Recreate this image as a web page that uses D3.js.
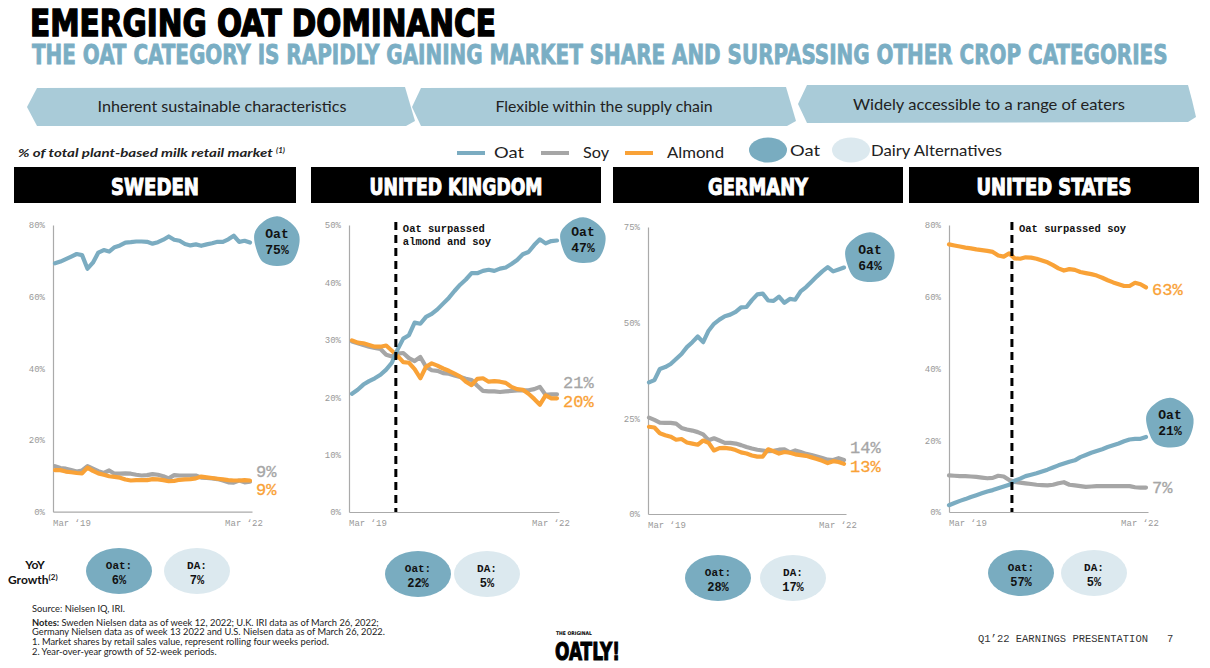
<!DOCTYPE html>
<html><head><meta charset="utf-8">
<script src="https://cdn.jsdelivr.net/npm/d3@7"></script>
<style>body{margin:0;background:#fff;} svg{display:block}</style>
</head><body><svg id="c" width="1210" height="668"></svg>
<script>
// ---------------- DATA ----------------
const months = ["Mar ‘19","Apr ‘19","May ‘19","Jun ‘19","Jul ‘19","Aug ‘19","Sep ‘19","Oct ‘19","Nov ‘19","Dec ‘19",
 "Jan ‘20","Feb ‘20","Mar ‘20","Apr ‘20","May ‘20","Jun ‘20","Jul ‘20","Aug ‘20","Sep ‘20","Oct ‘20","Nov ‘20","Dec ‘20",
 "Jan ‘21","Feb ‘21","Mar ‘21","Apr ‘21","May ‘21","Jun ‘21","Jul ‘21","Aug ‘21","Sep ‘21","Oct ‘21","Nov ‘21","Dec ‘21",
 "Jan ‘22","Feb ‘22","Mar ‘22"];
const countries = ["SWEDEN","UNITED KINGDOM","GERMANY","UNITED STATES"];
const seOat    = [69.3,69.8,70.5,71.2,71.9,71.6,67.8,69.5,72.3,73.0,72.6,73.8,74.3,75.1,75.2,75.4,75.4,75.3,74.8,75.2,75.9,76.8,75.9,75.6,74.7,74.3,74.6,74.2,74.6,74.9,75.3,75.3,76.0,77.0,75.3,75.6,75.1];
const seSoy    = [12.7,12.2,12.0,11.6,11.2,11.5,12.7,12.0,11.3,10.8,11.5,10.6,10.6,10.7,10.6,10.3,10.1,10.2,10.5,10.3,9.9,9.3,10.2,10.1,10.1,10.1,10.1,9.5,9.4,9.3,9.1,8.7,8.2,8.1,8.7,8.2,8.4];
const seAlmond = [11.6,11.6,11.2,11.0,10.8,10.7,12.3,11.4,10.7,10.3,9.9,9.7,9.5,9.0,8.7,8.8,8.8,8.8,9.1,9.0,8.8,8.5,8.6,8.9,9.0,9.1,9.3,9.8,9.6,9.4,9.2,9.0,8.8,8.7,8.7,8.8,8.7];
const ukOat    = [20.6,21.3,22.2,22.8,23.3,23.9,24.8,26.0,28.3,30.2,30.8,33.0,32.8,34.0,34.5,35.3,36.3,37.3,38.5,39.6,40.5,41.6,41.6,42.0,42.2,42.0,42.4,42.6,43.2,43.9,44.9,45.3,46.5,47.5,46.8,47.2,47.3];
const ukSoy    = [29.7,29.4,29.1,28.8,28.6,28.4,27.4,27.1,27.6,27.7,26.8,26.3,27.0,25.3,24.7,24.6,24.2,24.1,23.8,23.5,23.2,23.0,22.0,21.1,21.0,21.0,20.9,21.0,21.1,21.2,21.2,21.2,21.4,21.8,20.4,20.5,20.5];
const ukAlmond = [29.9,29.5,29.4,29.1,28.8,28.8,29.0,28.1,27.2,26.1,26.0,24.9,23.3,25.3,25.9,25.5,25.0,24.6,24.1,23.6,22.7,22.1,23.2,23.3,22.7,22.8,22.7,22.5,21.8,21.4,21.3,20.6,19.7,18.7,20.3,19.8,19.8];
const deOat    = [34.4,35.0,37.9,38.4,39.2,40.5,41.8,43.6,44.9,46.4,44.9,47.9,49.7,50.8,51.7,52.1,52.8,54.0,54.1,55.9,57.4,57.6,55.8,55.7,56.8,55.2,56.2,56.0,58.2,59.3,60.7,62.1,63.4,64.5,63.4,63.9,64.4];
const deSoy    = [25.2,24.6,23.9,23.8,23.8,23.6,22.5,22.1,21.8,21.4,20.8,19.3,19.8,19.2,18.6,18.6,18.4,18.0,17.5,17.1,16.8,16.6,16.4,16.5,16.8,16.9,16.1,16.6,16.2,15.7,15.4,15.0,14.6,14.2,14.1,14.6,14.1];
const deAlmond = [22.8,22.6,21.1,20.6,20.2,19.4,19.6,18.7,18.4,18.1,19.2,18.6,16.6,17.2,17.3,17.1,16.7,16.1,15.8,15.3,15.0,15.0,16.9,16.4,15.8,16.2,16.0,15.6,15.4,15.2,14.8,14.4,13.9,13.3,13.8,13.6,13.1];
const usOat    = [1.9,2.5,3.1,3.6,4.2,4.7,5.2,5.7,6.1,6.6,7.1,7.6,8.7,9.3,10.0,10.4,10.8,11.3,11.8,12.4,13.0,13.5,14.0,14.4,15.3,15.9,16.5,17.0,17.5,18.1,18.6,19.1,19.7,20.2,20.4,20.4,20.9];
const usSoy    = [10.2,10.1,10.0,10.0,9.9,9.8,9.6,9.4,9.5,10.1,9.9,8.9,8.4,8.2,8.0,7.8,7.6,7.5,7.4,7.6,8.0,8.3,7.6,7.4,7.2,7.0,7.1,7.2,7.2,7.2,7.2,7.2,7.2,7.2,6.9,6.8,6.8];
const usAlmond = [74.6,74.3,74.0,73.7,73.5,73.2,73.0,72.8,72.5,71.5,71.2,72.1,70.7,70.6,71.0,70.9,70.6,70.1,69.6,68.8,67.9,67.3,67.7,67.5,66.9,66.6,66.3,65.9,65.3,64.6,64.0,63.5,63.0,63.0,63.9,63.5,62.6];
const yMax   = [80, 50, 75, 80];
const yTicks = [[0,20,40,60,80],[0,10,20,30,40,50],[0,25,50,75],[0,20,40,60,80]];
const latestOat    = [75, 47, 64, 21];
const latestSoy    = [9, 21, 14, 7];
const latestAlmond = [9, 20, 13, 63];
const yoyOat = [6, 22, 28, 57];
const yoyDA  = [7, 5, 17, 5];
const surpassIdx  = [null, 7.7, null, 11.5];
const surpassText = [null, ["Oat surpassed","almond and soy"], null, ["Oat surpassed soy"]];
const bannerTexts = ["Inherent sustainable characteristics","Flexible within the supply chain","Widely accessible to a range of eaters"];
const seriesNames = ["Oat","Soy","Almond"];

const oatSeries = [seOat, ukOat, deOat, usOat];
const soySeries = [seSoy, ukSoy, deSoy, usSoy];
const almondSeries = [seAlmond, ukAlmond, deAlmond, usAlmond];

// ---------------- STYLE / LAYOUT ----------------
const C = {oat:"#7bacc1", soy:"#a6a6a6", almond:"#f9a237", banner:"#a9cbd8", oatBub:"#79acc0", daBub:"#dce9ef", sub:"#7aaec4"};
const DISPLAY = "'DejaVu Sans Condensed','Liberation Sans Narrow',sans-serif";
const BODY = "Lato,'Noto Sans',sans-serif";
const MONO = "'Liberation Mono','DejaVu Sans Mono',monospace";
const svg = d3.select("#c");

// fit a text horizontally into [x, x+w] by scaling (no textLength)
function fitText(sel, x, y, w) {
  const nat = sel.node().getComputedTextLength();
  const s = w / nat;
  sel.attr("x", 0).attr("y", 0).attr("transform", `translate(${x},${y}) scale(${s},1)`);
}

// Title
const t1 = svg.append("text").attr("font-family",DISPLAY).attr("font-weight","bold")
  .attr("font-size",38).attr("fill","#000").attr("stroke","#000").attr("stroke-width",1.4).text("EMERGING OAT DOMINANCE");
fitText(t1, 30, 36, 466);
const t2 = svg.append("text").attr("font-family",DISPLAY).attr("font-weight","bold")
  .attr("font-size",27).attr("fill",C.sub).attr("stroke",C.sub).attr("stroke-width",0.8)
  .text("THE OAT CATEGORY IS RAPIDLY GAINING MARKET SHARE AND SURPASSING OTHER CROP CATEGORIES");
fitText(t2, 32, 64, 1136);

// Banners
const banners = [
  {pts:[[37,88],[405,87],[410,104],[415,121],[406,126],[37,126],[27,107]], tx:222, ty:112, tw:249},
  {pts:[[421,88],[786,87],[791,104],[796,121],[787,126],[421,126],[412,107]], tx:604, ty:112, tw:217},
  {pts:[[807,85],[1188,85],[1192,100],[1196,117],[1188,122],[807,123],[798,104]], tx:989, ty:110, tw:272}
];
banners.forEach((b,i)=>{
  svg.append("path").attr("d", d3.line().curve(d3.curveLinearClosed)(b.pts)).attr("fill",C.banner);
  svg.append("text").attr("x",b.tx).attr("y",b.ty).attr("text-anchor","middle").attr("font-family",BODY)
    .attr("font-size",15).attr("fill","#222").attr("textLength",b.tw).attr("lengthAdjust","spacingAndGlyphs").text(bannerTexts[i]);
});

// subtitle of charts
const lt = svg.append("text").attr("x",18).attr("y",157).attr("font-family",BODY).attr("font-style","italic")
  .attr("font-weight","bold").attr("font-size",12).attr("fill","#222");
lt.append("tspan").attr("textLength",258).attr("lengthAdjust","spacingAndGlyphs").text("% of total plant-based milk retail market ");
lt.append("tspan").attr("font-size",8).attr("dy",-4).text("(1)");

// Legend
const legLines = [{x:457,c:C.oat,tx:494,tw:30},{x:541,c:C.soy,tx:583,tw:26},{x:625,c:C.almond,tx:667,tw:57}];
legLines.forEach((l,i)=>{
  svg.append("line").attr("x1",l.x).attr("x2",l.x+28).attr("y1",153).attr("y2",153).attr("stroke",l.c).attr("stroke-width",4);
  svg.append("text").attr("x",l.tx).attr("y",158).attr("font-family",BODY).attr("font-size",15).attr("fill","#222")
    .attr("textLength",l.tw).attr("lengthAdjust","spacingAndGlyphs").text(seriesNames[i]);
});
svg.append("ellipse").attr("cx",768).attr("cy",150).attr("rx",19).attr("ry",12.5).attr("fill",C.oatBub);
svg.append("text").attr("x",790).attr("y",156).attr("font-family",BODY).attr("font-size",15).attr("fill","#222")
  .attr("textLength",30).attr("lengthAdjust","spacingAndGlyphs").text("Oat");
svg.append("ellipse").attr("cx",851).attr("cy",150).attr("rx",19).attr("ry",12.5).attr("fill",C.daBub);
svg.append("text").attr("x",871).attr("y",156).attr("font-family",BODY).attr("font-size",15).attr("fill","#222")
  .attr("textLength",131).attr("lengthAdjust","spacingAndGlyphs").text("Dairy Alternatives");

// Panels
const panels = [
  {axisX:53, x0:55, x1:250, yTop:225, yBot:511.7, hdr:[14,296], hw:88,  bub:{dx:27,dy:-1,rx:23,ry:25}, soyDy:-4.5, almDy:14.5, yoyCx:[119,197], yoyCy:571},
  {axisX:349,x0:352,x1:557, yTop:225, yBot:512,   hdr:[311,601], hw:173, bub:{dx:26,dy:0,rx:23,ry:23}, soyDy:-6, almDy:9, yoyCx:[418,487], yoyCy:574},
  {axisX:648,x0:649,x1:844, yTop:227, yBot:514,   hdr:[613,903], hw:100, bub:{dx:26,dy:-10,rx:25,ry:25}, soyDy:-7, almDy:8, yoyCx:[718,793], yoyCy:578},
  {axisX:949,x0:949,x1:1146,yTop:225, yBot:512,   hdr:[909,1199],hw:155, bub:{dx:24,dy:-14,rx:24,ry:25}, soyDy:5.5, almDy:8, yoyCx:[1021,1094], yoyCy:573}
];

function blob(cx, cy, rx, ry) {
  const f = [1.0,0.97,1.04,0.98,1.02,0.95,1.03,0.99,1.01,0.96];
  const pts = f.map((k,j)=>{ const a = j/f.length*2*Math.PI - 0.3; return [cx+Math.cos(a)*rx*k, cy+Math.sin(a)*ry*k]; });
  return d3.line().curve(d3.curveCatmullRomClosed)(pts);
}

panels.forEach((p,i)=>{
  // header bar
  svg.append("rect").attr("x",p.hdr[0]).attr("y",167).attr("width",p.hdr[1]-p.hdr[0]).attr("height",36).attr("fill","#000");
  svg.append("text").attr("x",(p.hdr[0]+p.hdr[1])/2).attr("y",195).attr("text-anchor","middle").attr("font-family",DISPLAY)
    .attr("font-weight","bold").attr("font-size",23).attr("fill","#fff").attr("stroke","#fff").attr("stroke-width",1)
    .attr("textLength",p.hw).attr("lengthAdjust","spacingAndGlyphs").text(countries[i]);

  const x = d3.scaleLinear().domain([0, months.length-1]).range([p.x0, p.x1]);
  const y = d3.scaleLinear().domain([0, yMax[i]]).range([p.yBot, p.yTop]);
  const g = svg.append("g");

  // y axis
  const ya = g.append("g").attr("transform",`translate(${p.axisX},0)`)
    .call(d3.axisLeft(y).tickValues(yTicks[i]).tickSize(0).tickPadding(8).tickFormat(d=>d+"%"));
  ya.select(".domain").attr("stroke","#aaa").attr("stroke-width",1.2);
  ya.selectAll("text").attr("font-family",MONO).attr("font-size",9).attr("fill","#999");
  // x axis
  const xa = g.append("g").attr("transform",`translate(0,${p.yBot})`)
    .call(d3.axisBottom(d3.scaleLinear().domain(x.domain()).range([p.axisX, p.x1+2])).tickValues([]).tickSize(0));
  xa.select(".domain").attr("stroke","#aaa").attr("stroke-width",1.2);
  g.append("text").attr("x",p.axisX).attr("y",p.yBot+14).attr("font-family",MONO).attr("font-size",9).attr("fill","#999").text(months[0]);
  g.append("text").attr("x",x(months.length-1)-6).attr("y",p.yBot+14).attr("text-anchor","middle").attr("font-family",MONO)
    .attr("font-size",9).attr("fill","#999").text(months[months.length-1]);

  const line = d3.line().x((d,k)=>x(k)).y(d=>y(d)).curve(d3.curveLinear);
  [[soySeries[i],C.soy],[almondSeries[i],C.almond],[oatSeries[i],C.oat]].forEach(([s,c])=>{
    g.append("path").datum(s).attr("d",line).attr("fill","none").attr("stroke",c).attr("stroke-width",4.2)
      .attr("stroke-linejoin","round").attr("stroke-linecap","round");
  });

  // surpass line
  if (surpassIdx[i] !== null) {
    const sx = x(surpassIdx[i]);
    g.append("line").attr("x1",sx).attr("x2",sx).attr("y1",222).attr("y2",p.yBot).attr("stroke","#000")
      .attr("stroke-width",3).attr("stroke-dasharray","8,5");
    surpassText[i].forEach((t,k)=>{
      g.append("text").attr("x",sx+7).attr("y",232+k*13).attr("font-family",MONO).attr("font-weight","bold")
        .attr("font-size",10.5).attr("fill","#111").text(t);
    });
  }

  // end labels
  const last = months.length-1;
  g.append("text").attr("x",p.x1+6).attr("y",y(soySeries[i][last])+p.soyDy).attr("font-family",MONO)
    .attr("font-size",17).attr("fill",C.soy).attr("stroke",C.soy).attr("stroke-width",0.3).text(latestSoy[i]+"%");
  g.append("text").attr("x",p.x1+6).attr("y",y(almondSeries[i][last])+p.almDy).attr("font-family",MONO)
    .attr("font-size",17).attr("fill",C.almond).attr("stroke",C.almond).attr("stroke-width",0.3).text(latestAlmond[i]+"%");
  // oat bubble
  const bx = p.x1 + p.bub.dx, by = y(oatSeries[i][last]) + p.bub.dy;
  g.append("path").attr("d",blob(bx,by,p.bub.rx,p.bub.ry)).attr("fill",C.oatBub);
  g.append("text").attr("x",bx).attr("y",by-4).attr("text-anchor","middle").attr("font-family",MONO)
    .attr("font-weight","bold").attr("font-size",13).attr("fill","#111").text("Oat");
  g.append("text").attr("x",bx).attr("y",by+12).attr("text-anchor","middle").attr("font-family",MONO)
    .attr("font-weight","bold").attr("font-size",13).attr("fill","#111").text(latestOat[i]+"%");

  // YoY bubbles
  [[yoyOat[i],"Oat:",C.oatBub,p.yoyCx[0]],[yoyDA[i],"DA:",C.daBub,p.yoyCx[1]]].forEach(([v,lab,c,cx])=>{
    svg.append("ellipse").attr("cx",cx).attr("cy",p.yoyCy).attr("rx",33).attr("ry",23).attr("fill",c);
    svg.append("text").attr("x",cx).attr("y",p.yoyCy-2).attr("text-anchor","middle").attr("font-family",MONO)
      .attr("font-weight","bold").attr("font-size",11).attr("fill","#111").text(lab);
    svg.append("text").attr("x",cx).attr("y",p.yoyCy+13).attr("text-anchor","middle").attr("font-family",MONO)
      .attr("font-weight","bold").attr("font-size",12).attr("fill","#111").text(v+"%");
  });
});

// YoY label
svg.append("text").attr("x",35).attr("y",569).attr("text-anchor","middle").attr("font-family",BODY).attr("font-weight","bold")
  .attr("font-size",12).attr("fill","#111").text("YoY");
const gt = svg.append("text").attr("x",8).attr("y",584).attr("font-family",BODY).attr("font-weight","bold").attr("font-size",12).attr("fill","#111");
gt.append("tspan").text("Growth");
gt.append("tspan").attr("font-size",8).attr("dy",-4).text("(2)");

// Footnotes
const notes = [
  [32,612,"Source: Nielsen IQ, IRI."],
  [32,626,null],
  [32,635,"Germany Nielsen data as of week 13 2022 and U.S. Nielsen data as of March 26, 2022."],
  [32,645,"1.  Market shares by retail sales value, represent rolling four weeks period."],
  [32,655,"2.  Year-over-year growth of 52-week periods."]
];
notes.forEach(([x,y,t],k)=>{
  const tx = svg.append("text").attr("x",x).attr("y",y).attr("font-family",BODY).attr("font-size",9.3).attr("fill","#222");
  if (t) tx.text(t);
  else { tx.append("tspan").attr("font-weight","bold").text("Notes: ");
         tx.append("tspan").text("Sweden Nielsen data as of week 12, 2022; U.K. IRI data as of March 26, 2022;"); }
});

// logo
svg.append("text").attr("x",556).attr("y",635).attr("font-family",DISPLAY).attr("font-weight","bold").attr("font-size",5)
  .attr("fill","#000").text("THE ORIGINAL");
svg.append("text").attr("x",555).attr("y",660).attr("font-family",DISPLAY).attr("font-weight","bold").attr("font-size",24)
  .attr("fill","#000").attr("stroke","#000").attr("stroke-width",1).attr("textLength",65).attr("lengthAdjust","spacingAndGlyphs").text("OATLY!");

// page footer
svg.append("text").attr("x",978).attr("y",642).attr("font-family",MONO).attr("font-size",10.5).attr("fill","#333")
  .attr("textLength",170).attr("lengthAdjust","spacingAndGlyphs").text("Q1’22 EARNINGS PRESENTATION");
svg.append("text").attr("x",1167).attr("y",642).attr("font-family",MONO).attr("font-size",10.5).attr("fill","#333").text("7");
</script></body></html>
